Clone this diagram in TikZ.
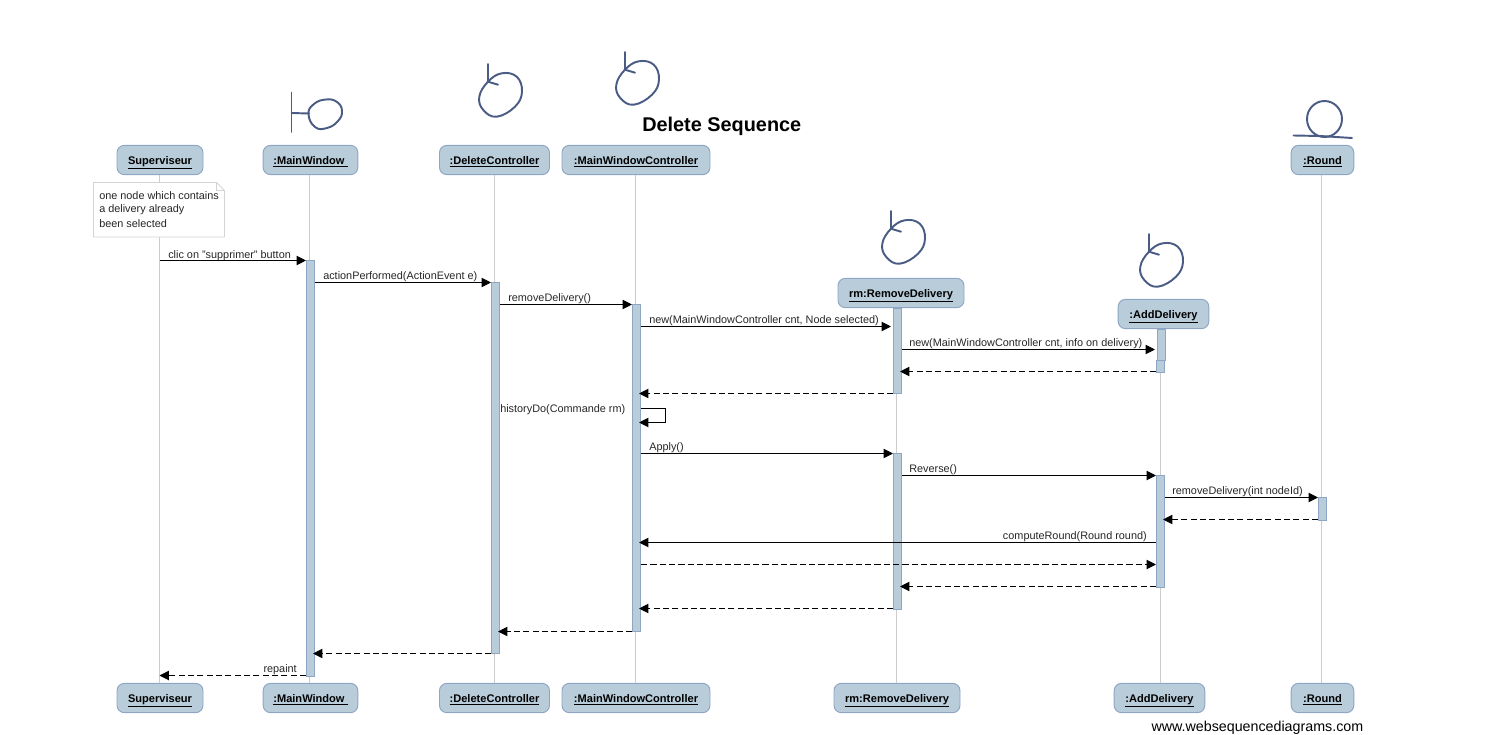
\documentclass[tikz,border=0pt]{standalone}
\usepackage{fontspec}
\setmainfont{Liberation Sans}
\usetikzlibrary{arrows.meta}
\definecolor{boxfill}{HTML}{B8CCDA}
\definecolor{boxline}{HTML}{8FA5C4}
\definecolor{sketch}{HTML}{4A5C84}
\definecolor{lifec}{HTML}{CCCCCC}
\definecolor{notec}{HTML}{D4D4D4}
\newcommand{\actorlabel}[1]{\raisebox{-3pt}[0pt][0pt]{\underline{#1}}}
\tikzset{
  actor/.style={draw=boxline,fill=boxfill,rounded corners=5.5pt,line width=0.7pt,inner sep=0pt,minimum height=22pt,font=\fontsize{8.3}{10}\selectfont\bfseries},
  bar/.style={draw=boxline,fill=boxfill,line width=0.6pt,inner sep=0pt,minimum width=6.2pt,anchor=north},
  lifeln/.style={draw=lifec,line width=0.75pt},
  msgline/.style={draw=black,line width=0.75pt,-{Triangle[length=7pt,width=7pt]}},
  retline/.style={msgline,dash pattern=on 4.6pt off 2.4pt},
  intobar/.style={shorten >=-1.5pt},
  shortbar/.style={shorten >=1.5pt},
  lbl/.style={inner sep=0pt,yshift=-0.4pt,font=\fontsize{8.15}{10}\selectfont,text=black!85},
  sk/.style={draw=sketch,line width=1.45pt,line cap=round,line join=round},
}
\newcommand{\ctrlsketch}[2]{%
  \begin{scope}[shift={(#1,#2)}]
    \draw[sk] (0,0) -- (0,17.7) -- (10,20.7);
    \draw[sk] plot[smooth cycle,tension=0.7] coordinates {(0,17.7) (13.7,9.3) (28.7,12.7) (34,27.7) (27,42.7) (8.7,52.7) (-4.7,46) (-8.7,32.7)};
  \end{scope}}
\begin{document}
\begin{tikzpicture}[x=0.75pt,y=-0.75pt]
\useasboundingbox (0,0) rectangle (1492,735);
% top actors
\node[actor,minimum width=64.5pt] (t1) at (160,160) {\actorlabel{Superviseur}};
\node[actor,minimum width=71pt] (t2) at (310.5,160) {\actorlabel{:MainWindow\ }};
\node[actor,minimum width=82.5pt] (t3) at (494.5,160) {\actorlabel{:DeleteController}};
\node[actor,minimum width=111pt] (t4) at (636,160) {\actorlabel{:MainWindowController}};
\node[actor,minimum width=94.5pt] (t5) at (901,293) {\actorlabel{rm:RemoveDelivery}};
\node[actor,minimum width=68pt] (t6) at (1163.5,314) {\actorlabel{:AddDelivery}};
\node[actor,minimum width=47pt] (t7) at (1322.5,160) {\actorlabel{:Round}};
% bottom actors
\node[actor,minimum width=64.5pt] (b1) at (160,698) {\actorlabel{Superviseur}};
\node[actor,minimum width=71pt] (b2) at (310.5,698) {\actorlabel{:MainWindow\ }};
\node[actor,minimum width=82.5pt] (b3) at (494.5,698) {\actorlabel{:DeleteController}};
\node[actor,minimum width=111pt] (b4) at (636,698) {\actorlabel{:MainWindowController}};
\node[actor,minimum width=94.5pt] (b5) at (897,698) {\actorlabel{rm:RemoveDelivery}};
\node[actor,minimum width=68pt] (b6) at (1159.5,698) {\actorlabel{:AddDelivery}};
\node[actor,minimum width=47pt] (b7) at (1322.5,698) {\actorlabel{:Round}};
% lifeline x positions
\coordinate (l1) at (159.5,400);
\coordinate (l2) at (309.5,400);
\coordinate (l3) at (494.5,400);
\coordinate (l4) at (635.5,400);
\coordinate (l5) at (896.5,400);
\coordinate (l6) at (1160,400);
\coordinate (l7) at (1321.5,400);
\foreach \i in {1,...,7} {
  \draw[lifeln] (t\i.south -| l\i) -- (b\i.north -| l\i);
}
% activation bars
\node[bar,minimum height=312pt] (a2) at (310.5,260) {};
\node[bar,minimum height=278.5pt] (a3) at (495.5,282) {};
\node[bar,minimum height=245.5pt] (a4) at (636.5,304) {};
\node[bar,minimum height=64pt] (a5) at (897.5,307.5) {};
\node[bar,minimum height=117pt] (a5b) at (897.5,453) {};
\node[bar,minimum height=23.5pt] (a6) at (1161.5,329) {};
\node[bar,minimum height=9pt] (a6c) at (1160.5,360) {};
\node[bar,minimum height=84pt] (a6b) at (1160.5,475) {};
\node[bar,minimum height=17pt] (a7) at (1322.5,497) {};
% note
\coordinate (noteanchor) at (93.5,182.5);
\draw[draw=notec,fill=white,line width=0.7pt] (noteanchor) -- ++(123,0) -- ++(8,8) -- ++(0,46.5) -- ++(-131,0) -- cycle;
\draw[draw=notec,line width=0.7pt] (216.5,182.5) -- (216.5,190.5) -- (224.5,190.5);
\node[lbl,anchor=west] (n1) at (99,195.3) {one node which contains};
\node[lbl,anchor=west] (n2) at (99,209.3) {a delivery already};
\node[lbl,anchor=west] (n3) at (99,223.3) {been selected};
% title
\node[inner sep=0pt,anchor=west,font=\fontsize{14.9}{18}\selectfont\bfseries] (title) at (642,126) {Delete Sequence};
\node[inner sep=0pt,anchor=east,font=\fontsize{10.7}{12}\selectfont] (wm) at (1363.5,728) {www.websequencediagrams.com};
% messages
\draw[msgline] (l1 |- 0,260.5) -- (a2.west |- 0,260.5);
\node[lbl,anchor=west] (m1) at (168,255) {clic on "supprimer" button};
\draw[msgline] (a2.east |- 0,282.5) -- (a3.west |- 0,282.5);
\node[lbl,anchor=west] (m2) at (323,276.5) {actionPerformed(ActionEvent e)};
\draw[msgline] (a3.east |- 0,304.5) -- (a4.west |- 0,304.5);
\node[lbl,anchor=west] (m3) at (508,298.5) {removeDelivery()};
\draw[msgline,shortbar] (a4.east |- 0,326.5) -- (a5.west |- 0,326.5);
\node[lbl,anchor=west] (m4) at (649,320.5) {new(MainWindowController cnt, Node selected)};
\draw[msgline,shortbar] (a5.east |- 0,349.5) -- (a6.west |- 0,349.5);
\node[lbl,anchor=west] (m5) at (909,343) {new(MainWindowController cnt, info on delivery)};
\draw[retline,intobar] (a6c.west |- 0,371.5) -- (a5.east |- 0,371.5);
\draw[retline,intobar] (a5.west |- 0,393.5) -- (a4.east |- 0,393.5);
\draw[msgline,intobar] (a4.east |- 0,408.5) -| (665.5,422.5) -- (a4.east |- 0,422.5);
\node[lbl,anchor=west] (m6) at (500,409) {historyDo(Commande rm)};
\draw[msgline] (a4.east |- 0,453.5) -- (a5b.west |- 0,453.5);
\node[lbl,anchor=west] (m7) at (649,447.5) {Apply()};
\draw[msgline] (a5b.east |- 0,475.5) -- (a6b.west |- 0,475.5);
\node[lbl,anchor=west] (m8) at (909,469.5) {Reverse()};
\draw[msgline] (a6b.east |- 0,497.5) -- (a7.west |- 0,497.5);
\node[lbl,anchor=west] (m9) at (1172,491.5) {removeDelivery(int nodeId)};
\draw[retline,intobar] (a7.west |- 0,519.5) -- (a6b.east |- 0,519.5);
\draw[msgline,intobar] (a6b.west |- 0,542.5) -- (a4.east |- 0,542.5);
\node[lbl,anchor=east] (m10) at (1147,536.5) {computeRound(Round round)};
\draw[retline] (a4.east |- 0,564.5) -- (a6b.west |- 0,564.5);
\draw[retline,intobar] (a6b.west |- 0,586.5) -- (a5b.east |- 0,586.5);
\draw[retline,intobar] (a5b.west |- 0,608.5) -- (a4.east |- 0,608.5);
\draw[retline,intobar] (a4.west |- 0,631.5) -- (a3.east |- 0,631.5);
\draw[retline,intobar] (a3.west |- 0,653.5) -- (a2.east |- 0,653.5);
\draw[retline] (a2.west |- 0,675.5) -- (l1 |- 0,675.5);
\node[lbl,anchor=east] (m11) at (297,669) {repaint};
% sketches
\draw[sk] (291.5,92.5) -- (291.5,132);
\draw[sk] (291.5,113) -- (309,113.5);
\draw[sk] plot[smooth cycle,tension=0.8] coordinates {(308.5,114) (314,104) (326,99.5) (337,102) (342,111) (338,121) (327,128) (315,127)};
\ctrlsketch{488}{64}
\ctrlsketch{625}{52}
\ctrlsketch{891}{211}
\ctrlsketch{1149}{234}
\draw[sk] (1324.5,119) ellipse [x radius=17.5,y radius=18];
\draw[sk] (1293.5,135.5) -- (1320,136) -- (1352,138);
\end{tikzpicture}
\end{document}
